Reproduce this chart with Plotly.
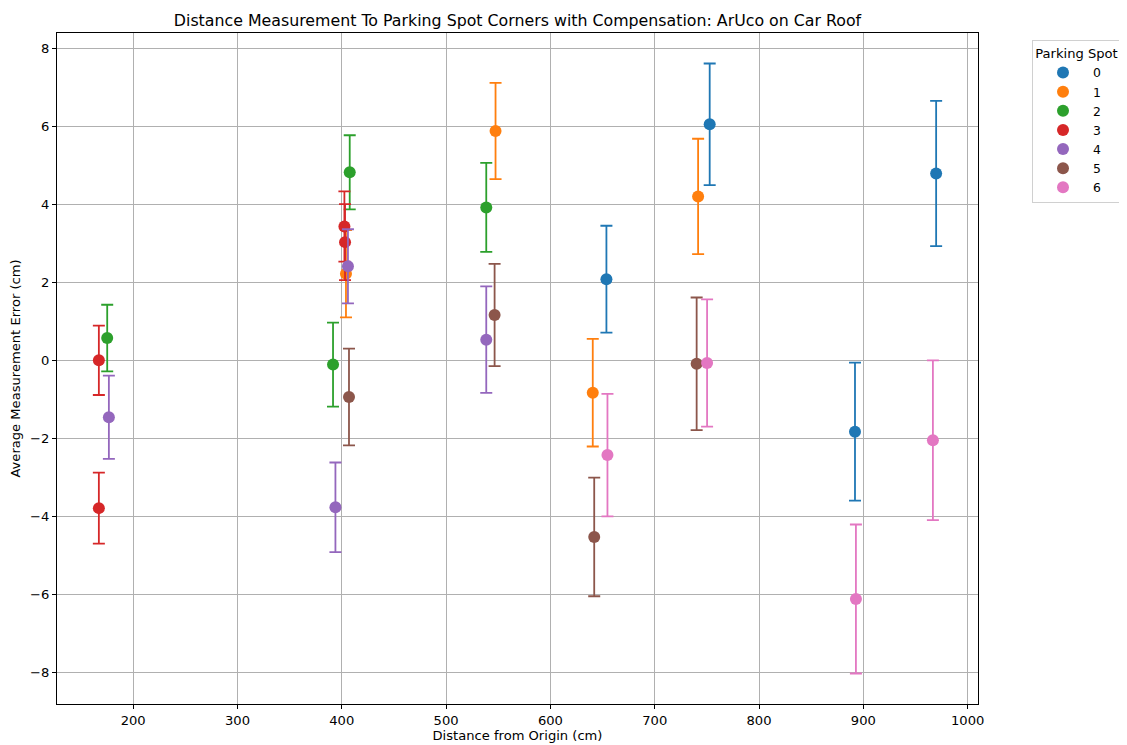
import plotly.graph_objects as go

spots = ["0", "1", "2", "3", "4", "5", "6"]
colors = ["#1f77b4", "#ff7f0e", "#2ca02c", "#d62728", "#9467bd", "#8c564b", "#e377c2"]

x0 = [653.7, 752.7, 892.0, 969.8]
y0 = [2.08, 6.05, -1.83, 4.79]
e0 = [1.37, 1.56, 1.77, 1.86]

x1 = [404.0, 547.4, 640.6, 741.6]
y1 = [2.22, 5.88, -0.83, 4.20]
e1 = [1.12, 1.235, 1.38, 1.48]

x2 = [175.1, 391.6, 407.6, 538.5]
y2 = [0.57, -0.11, 4.82, 3.92]
e2 = [0.855, 1.075, 0.95, 1.14]

x3 = [167.1, 167.1, 402.5, 403.1]
y3 = [0.0, -3.79, 3.43, 3.03]
e3 = [0.89, 0.91, 0.90, 0.975]

x4 = [176.7, 393.9, 405.9, 538.5]
y4 = [-1.46, -3.77, 2.41, 0.53]
e4 = [1.065, 1.15, 0.95, 1.365]

x5 = [406.9, 546.5, 642.0, 740.2]
y5 = [-0.94, 1.16, -4.53, -0.09]
e5 = [1.24, 1.31, 1.52, 1.70]

x6 = [654.7, 750.2, 892.9, 966.7]
y6 = [-2.43, -0.07, -6.12, -2.05]
e6 = [1.57, 1.63, 1.91, 2.05]

xs = [x0, x1, x2, x3, x4, x5, x6]
ys = [y0, y1, y2, y3, y4, y5, y6]
es = [e0, e1, e2, e3, e4, e5, e6]

x_ticks = [200, 300, 400, 500, 600, 700, 800, 900, 1000]
y_ticks = [-8, -6, -4, -2, 0, 2, 4, 6, 8]

FONT = "DejaVu Sans"
FS = 13.1

W, H = 1119, 737  # page has an 8px body margin
L, T, PW, PH = 49, 25, 921, 671

fig = go.Figure()
for name, c, x, y, e in zip(spots, colors, xs, ys, es):
    fig.add_trace(go.Scatter(
        x=x, y=y, mode="markers", name=name,
        marker=dict(color=c, size=12, line=dict(width=0)),
        error_y=dict(type="data", array=e, visible=True, color=c,
                     thickness=1.8, width=6),
    ))

# autoscale with 5% margins like matplotlib
allx = [v for s in xs for v in s]
ylo = [yy - ee for sy, se in zip(ys, es) for yy, ee in zip(sy, se)]
yhi = [yy + ee for sy, se in zip(ys, es) for yy, ee in zip(sy, se)]
xr = max(allx) - min(allx)
yr = max(yhi) - min(ylo)
xrange_ = [min(allx) - 0.05 * xr, max(allx) + 0.05 * xr]
yrange_ = [min(ylo) - 0.05 * yr, max(yhi) + 0.05 * yr]

axis_common = dict(
    showgrid=True, gridcolor="#b0b0b0", gridwidth=1,
    showline=True, linecolor="black", linewidth=1, mirror=True,
    ticks="outside", ticklen=4, tickcolor="black", tickwidth=1,
    zeroline=False, automargin=False,
    tickfont=dict(family=FONT, size=FS, color="black"),
)

fig.update_layout(
    width=W, height=H,
    margin=dict(l=L, r=W - L - PW, t=T, b=H - T - PH, autoexpand=False),
    paper_bgcolor="white", plot_bgcolor="white",
    font=dict(family=FONT, size=FS, color="black"),
    title=dict(
        text="Distance Measurement To Parking Spot Corners with Compensation: ArUco on Car Roof",
        x=0.5, xref="paper", y=1 - 12 / H, yref="container",
        xanchor="center", yanchor="middle",
        font=dict(family=FONT, size=15.8, color="black"),
    ),
    xaxis=dict(
        range=xrange_, tickvals=x_ticks,
        title=dict(text="Distance from Origin (cm)", standoff=3,
                   font=dict(family=FONT, size=FS)),
        **axis_common,
    ),
    yaxis=dict(
        range=yrange_, tickvals=y_ticks,
        title=dict(text="Average Measurement Error (cm)", standoff=6,
                   font=dict(family=FONT, size=FS)),
        **axis_common,
    ),
    legend=dict(
        title=dict(text="Parking Spot", font=dict(family=FONT, size=FS), side="top center"),
        x=(1024 - L) / PW, y=(T + PH - 32) / PH, xanchor="left", yanchor="top",
        bordercolor="#d0d0d0", borderwidth=1, bgcolor="white",
        font=dict(family=FONT, size=12.4),
        tracegroupgap=0, itemwidth=50,
    ),
    showlegend=True,
)

fig.write_html("out.html")
